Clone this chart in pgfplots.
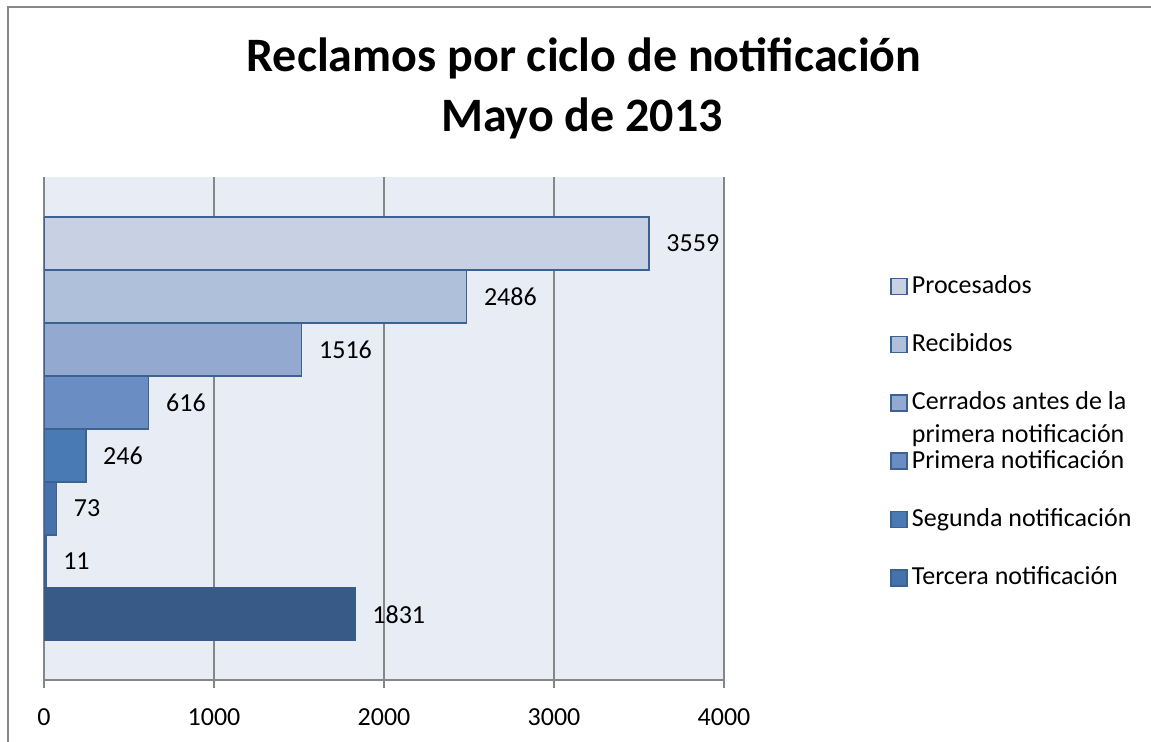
\documentclass[border=0pt]{standalone}
\usepackage{pgfplots}
\pgfplotsset{compat=1.18}
\usepackage{fontspec}
\setmainfont{Carlito}
\definecolor{c1}{HTML}{C8D1E4}
\definecolor{c2}{HTML}{AFC0DA}
\definecolor{c3}{HTML}{94A9CF}
\definecolor{c4}{HTML}{6A8EC3}
\definecolor{c5}{HTML}{4A7AB4}
\definecolor{c6}{HTML}{4671AA}
\definecolor{c7}{HTML}{3D66A0}
\definecolor{c8}{HTML}{375A87}
\definecolor{edgec}{HTML}{3C6291}
\definecolor{gridc}{HTML}{868686}
\definecolor{bgc}{HTML}{E8ECF4}
\begin{document}
\fontsize{26bp}{33bp}\selectfont
\begin{tikzpicture}
\path[use as bounding box] (0,0) rectangle (1151bp,-742bp);
\fill[white] (0,0) rectangle (1151bp,-742bp);
\draw[gridc, line width=2bp] (8bp,-742bp) -- (8bp,-7bp) -- (1151bp,-7bp);
\node[anchor=base, font=\fontsize{48bp}{56bp}\selectfont\bfseries, inner sep=0pt] at (584bp,-71bp) {Reclamos por ciclo de notificación};
\node[anchor=base, font=\fontsize{48bp}{56bp}\selectfont\bfseries, inner sep=0pt] at (582bp,-131bp) {Mayo de 2013};
\begin{axis}[
  at={(44bp,-680bp)}, anchor=south west,
  width=680bp, height=503bp, scale only axis,
  xmin=0, xmax=4000,
  ymin=-0.255, ymax=9.24, y dir=reverse,
  xbar, bar width=1, bar shift=0pt,
  axis background/.style={fill=bgc},
  separate axis lines,
  axis x line*=bottom, axis y line*=left,
  axis line style={gridc, line width=1.5bp},
  xtick={0,1000,2000,3000,4000}, ytick=\empty,
  tick align=outside, major tick length=8bp,
  xtick style={gridc, line width=1.5bp},
  xmajorgrids, grid style={gridc, line width=1.5bp},
  /pgf/number format/.cd, 1000 sep={}, assume math mode=true, /pgfplots/.cd,
  tick label style={font=\fontsize{26bp}{33bp}\selectfont, text=black},
  xticklabel style={yshift=-12bp},
  point meta=x,
  nodes near coords,
  every node near coord/.append style={font=\fontsize{26bp}{33bp}\selectfont, text=black, xshift=8bp},
  legend style={at={(1.2441,0.805)}, anchor=north west, draw=none, fill=none, inner sep=0pt,
    row sep=34.3bp, font=\fontsize{26bp}{33bp}\selectfont,
    nodes={inner sep=0pt, text height=18bp, text depth=6bp}},
  legend cell align=left,
  legend image code/.code={\path[draw=none, fill=none] (0bp,0bp) rectangle (21bp,1bp);\draw[#1, line width=1.5bp] (0bp,-7bp) rectangle (16bp,9bp);},
]
\addplot[fill=c1, draw=edgec, line width=1.5bp] coordinates {(3559,1)};
\addlegendentry{Procesados}
\addplot[fill=c2, draw=edgec, line width=1.5bp] coordinates {(2486,2)};
\addlegendentry{Recibidos}
\addplot[fill=c3, draw=edgec, line width=1.5bp] coordinates {(1516,3)};
\addlegendentry{\begin{tabular}[t]{@{}l@{}}Cerrados antes de la\\primera notificación\end{tabular}}
\addplot[fill=c4, draw=edgec, line width=1.5bp] coordinates {(616,4)};
\addlegendentry{Primera notificación}
\addplot[fill=c5, draw=edgec, line width=1.5bp] coordinates {(246,5)};
\addlegendentry{Segunda notificación}
\addplot[fill=c6, draw=edgec, line width=1.5bp] coordinates {(73,6)};
\addlegendentry{Tercera notificación}
\addplot[forget plot, fill=c7, draw=edgec, line width=1.5bp] coordinates {(11,7)};
\addplot[forget plot, fill=c8, draw=c8, line width=1bp] coordinates {(1831,8)};
\end{axis}
\end{tikzpicture}
\end{document}
